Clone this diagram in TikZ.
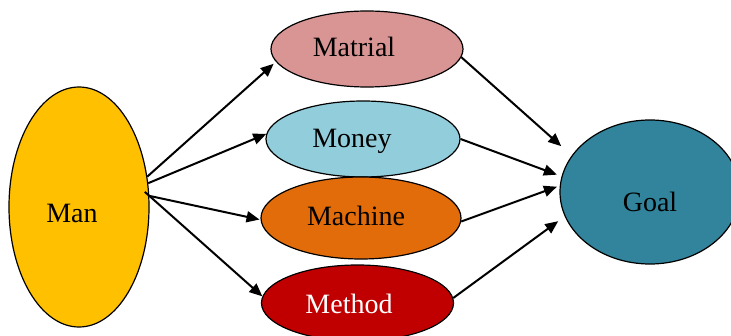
\documentclass[tikz,border=0pt]{standalone}
\usepackage{fontspec}
\setmainfont{Liberation Serif}
\usetikzlibrary{arrows.meta,shapes.geometric}
\definecolor{manfill}{HTML}{FFC000}
\definecolor{matfill}{HTML}{D99594}
\definecolor{monfill}{HTML}{92CDDC}
\definecolor{macfill}{HTML}{E36C0A}
\definecolor{metfill}{HTML}{C00000}
\definecolor{goalfill}{HTML}{31849B}
\tikzset{
  bubble/.style={ellipse, draw=black, line width=1.2pt, inner sep=0pt},
  word/.style={anchor=base, inner sep=0pt, font=\fontsize{28}{32}\selectfont},
  flow/.style={line width=2pt, -{Triangle[length=13pt,width=11pt]}}
}
\begin{document}
\begin{tikzpicture}[x=1pt,y=1pt]
\useasboundingbox (0,0) rectangle (731,335);
\begin{scope}
\clip (0,0) rectangle (731,335);
% the six ellipses
\node[bubble, fill=manfill, minimum width=140pt, minimum height=240pt] (man) at (79,128) {};
\node[bubble, fill=matfill, minimum width=192pt, minimum height=76pt] (mat) at (367,286) {};
\node[bubble, fill=monfill, minimum width=194pt, minimum height=76pt] (mon) at (363,196) {};
\node[bubble, fill=macfill, minimum width=200pt, minimum height=82pt] (mac) at (361,117) {};
\node[bubble, fill=metfill, minimum width=192pt, minimum height=76pt] (met) at (357.5,32) {};
\node[bubble, fill=goalfill, minimum width=180pt, minimum height=144pt] (goal) at (650,143) {};

% their labels
\node[word] (manlbl) at (72,112) {Man};
\node[word] (matlbl) at (354,278) {Matrial};
\node[word] (monlbl) at (352,187) {Money};
\node[word] (maclbl) at (356,110) {Machine};
\node[word, text=white] (metlbl) at (349,22) {Method};
\node[word] (goallbl) at (650,123) {Goal};

% the resources branch out of Man
\draw[flow, shorten >=3pt] (man.24) -- (mat.188);
\draw[flow] (man.19) -- (mon.177);
\draw[flow, shorten >=1pt] (man.9.5) -- (mac.181);
\draw[flow, shorten <=-6pt] (man.9) -- (met.176);

% and all lead to the Goal
\draw[flow, shorten >=14pt] (mat.-5) -- (goal.155);
\draw[flow, shorten >=5pt] (mon.0) -- (goal.170);
\draw[flow, shorten >=3pt] (mac.-2) -- (goal.176);
\draw[flow, shorten >=8pt] (met.3) -- (goal.196);
\end{scope}
\end{tikzpicture}
\end{document}
